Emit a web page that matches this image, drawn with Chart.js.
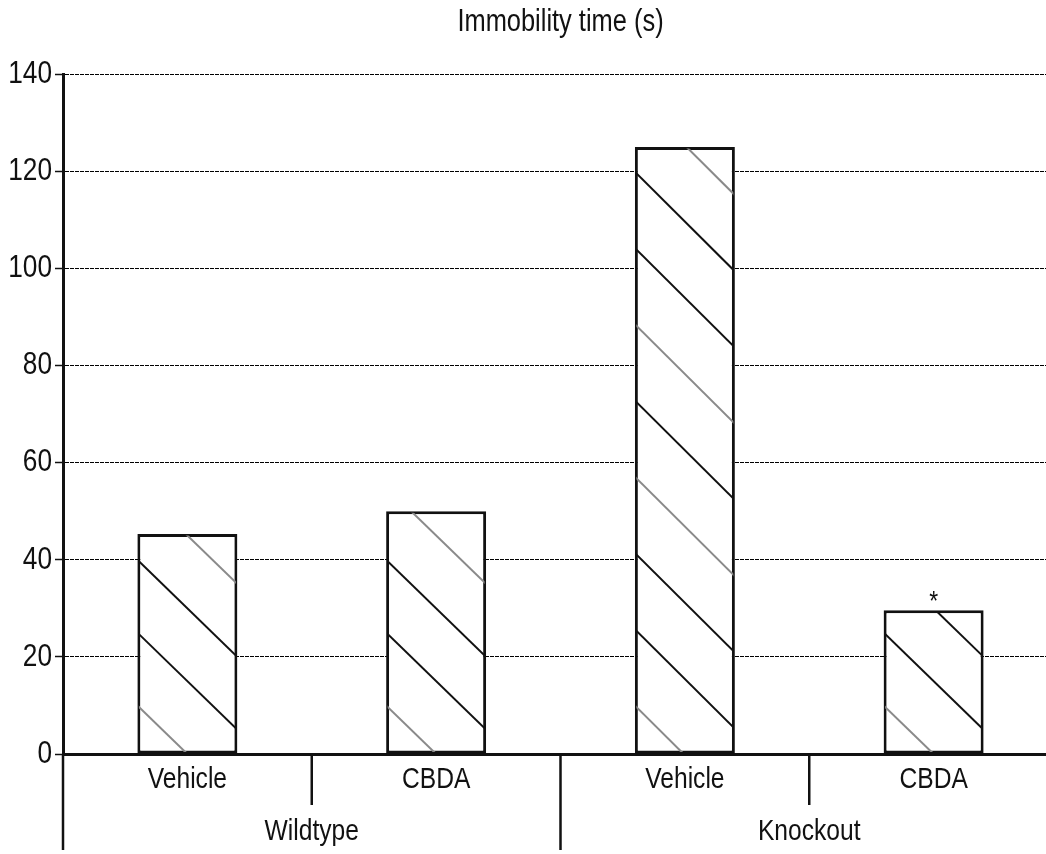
<!DOCTYPE html>
<html>
<head>
<meta charset="utf-8">
<title>Immobility time</title>
<script src="https://cdn.jsdelivr.net/npm/chart.js@4.4.0/dist/chart.umd.min.js"></script>
<style>
    html, body { margin: 0; padding: 0; background: #fff; overflow: hidden; }
    #wrap { width: 1070px; height: 854px; }
</style>
</head>
<body>
<div id="wrap"><canvas id="myChart" width="1070" height="854"></canvas></div>
<script>
// Datos del grafico
const categories = ['Vehicle', 'CBDA', 'Vehicle', 'CBDA']
const groups = ['Wildtype', 'Knockout']
const immobility = [45.3, 50, 125, 29.6]
const marks = ['', '', '', '*']
const yMin = 0
const yMax = 140
const yStep = 20

// Rayado de cada barra (en unidades del eje y); light = lineas grises
const hatch = [
    { start: 10, step: 15, drop: 20, light: [0, 3] },
    { start: 10, step: 15, drop: 20, light: [0, 3] },
    { start: 10, step: 15.7, drop: 20.5, light: [0, 3, 5, 8] },
    { start: 10, step: 15, drop: 20, light: [0] },
]

const FONT = "'Liberation Sans', Arial, sans-serif"
const NARROW = 0.82 // compresion horizontal del texto (tipo Arial Narrow)
const INK = '#111'

// Lineas diagonales dentro de las barras
const hatchPlugin = {
    id: 'hatch',
    afterDatasetsDraw(chart) {
        const { ctx } = chart
        const yScale = chart.scales.y
        const meta = chart.getDatasetMeta(0)
        meta.data.forEach((bar, i) => {
            const { x, y, base, width } = bar.getProps(['x', 'y', 'base', 'width'], true)
            const left = x - width / 2
            const right = x + width / 2
            const h = hatch[i]
            ctx.save()
            ctx.beginPath()
            ctx.rect(left + 1.5, y + 1.5, width - 3, base - y - 3)
            ctx.clip()
            ctx.lineWidth = 2
            let k = 0
            for (let v = h.start; v - h.drop < immobility[i]; v += h.step) {
                ctx.strokeStyle = h.light.includes(k) ? '#8a8a8a' : INK
                ctx.beginPath()
                ctx.moveTo(left, yScale.getPixelForValue(v))
                ctx.lineTo(right, yScale.getPixelForValue(v - h.drop))
                ctx.stroke()
                k++
            }
            ctx.restore()
        })
    },
}

// Separadores bajo el eje x y asterisco de significancia
const extrasPlugin = {
    id: 'extras',
    afterDraw(chart) {
        const { ctx } = chart
        const xScale = chart.scales.x
        const top = xScale.top
        const boundary = i => (xScale.getPixelForValue(i - 1) + xScale.getPixelForValue(i)) / 2

        ctx.save()
        ctx.strokeStyle = INK
        ctx.lineWidth = 2.5
        const lines = [
            [xScale.left, top + 96],
            [boundary(1), top + 51],
            [boundary(2), top + 96],
            [boundary(3), top + 51],
        ]
        lines.forEach(([x, bottom]) => {
            ctx.beginPath()
            ctx.moveTo(x, top)
            ctx.lineTo(x, bottom)
            ctx.stroke()
        })

        // asterisco
        const meta = chart.getDatasetMeta(0)
        ctx.fillStyle = INK
        ctx.font = `28px ${FONT}`
        ctx.textAlign = 'center'
        ctx.textBaseline = 'alphabetic'
        meta.data.forEach((bar, i) => {
            if (marks[i]) ctx.fillText(marks[i], bar.x, bar.y)
        })
        ctx.restore()
    },
}

const ctx = document.getElementById('myChart')

// Texto estrecho: se comprime en horizontal alrededor del punto de anclaje
const context = ctx.getContext('2d')
const rawFillText = context.fillText.bind(context)
context.fillText = (text, x, y, maxWidth) => {
    context.save()
    context.translate(x, y)
    context.scale(NARROW, 1)
    rawFillText(text, 0, 0, maxWidth)
    context.restore()
}

// eslint-disable-next-line no-new, no-undef
new Chart(ctx, {
    type: 'bar',
    data: {
        labels: categories,
        datasets: [
            {
                label: 'Immobility time (s)',
                data: immobility,
                backgroundColor: '#fff',
                borderColor: INK,
                borderWidth: 3,
                borderSkipped: false,
                barPercentage: 0.402,
                categoryPercentage: 1,
            },
        ],
    },
    options: {
        responsive: false,
        animation: false,
        devicePixelRatio: 1,
        layout: { padding: { left: 0, right: 12, top: 0, bottom: 0 } },
        plugins: {
            legend: { display: false },
            tooltip: { enabled: false },
            title: {
                display: true,
                text: 'Immobility time (s)',
                fullSize: false,
                color: INK,
                font: { family: FONT, size: 31, weight: 'normal', lineHeight: 1.2 },
                padding: { top: 4, bottom: 33 },
            },
        },
        scales: {
            x: {
                position: 'bottom',
                weight: 0,
                grid: { display: false, drawTicks: false },
                border: { display: true, color: INK, width: 3 },
                ticks: {
                    color: INK,
                    padding: 8,
                    font: { family: FONT, size: 30 },
                },
                afterFit(scale) { scale.height = 50 },
            },
            x2: {
                type: 'category',
                labels: groups,
                position: 'bottom',
                weight: 1,
                offset: true,
                grid: { display: false, drawTicks: false },
                border: { display: false },
                ticks: {
                    color: INK,
                    padding: 10,
                    font: { family: FONT, size: 30 },
                },
                afterFit(scale) { scale.height = 50 },
            },
            y: {
                min: yMin,
                max: yMax,
                ticks: {
                    stepSize: yStep,
                    color: INK,
                    padding: 3,
                    font: { family: FONT, size: 32 },
                },
                grid: {
                    color: '#000',
                    lineWidth: 1,
                    drawTicks: true,
                    tickLength: 8,
                    tickColor: INK,
                    tickWidth: 1.5,
                },
                border: { display: true, color: INK, width: 3, dash: [4, 1] },
                afterFit(scale) { scale.width = 63 },
            },
        },
    },
    plugins: [hatchPlugin, extrasPlugin],
})
</script>
</body>
</html>
